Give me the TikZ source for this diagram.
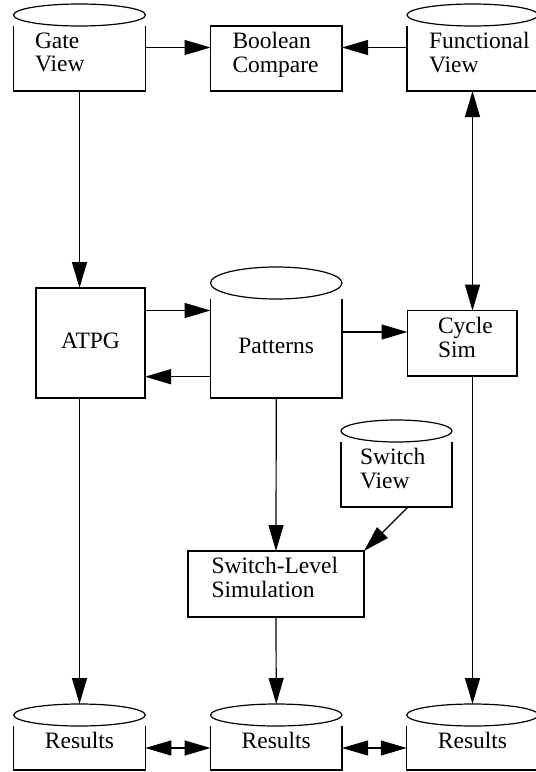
\documentclass[tikz,border=0pt]{standalone}
\usepackage{fontspec}
\setmainfont{Liberation Serif}
\usetikzlibrary{positioning,arrows.meta,shapes.geometric}
\hyphenpenalty=10000

\tikzset{
  box/.style={draw, rectangle, inner xsep=22pt, inner ysep=0pt, outer sep=0pt,
    align=left, text depth=36pt},
  db/.style={box, draw=none},
  lid/.style={draw, ellipse, inner sep=0pt, outer sep=0pt},
  flow/.style={-{Triangle[length=26pt,width=15pt]}},
  both/.style={{Triangle[length=26pt,width=15pt]}-{Triangle[length=26pt,width=15pt]}},
}

\begin{document}
\begin{tikzpicture}[x=1pt, y=-1pt, line width=1.2pt,
  font=\fontsize{23.5}{23.5}\selectfont]
	\path[use as bounding box, clip] (0,0) rectangle (536,772);

	% top row
	\node [db, text width=89pt, inner xsep=21.5pt, minimum height=65pt] (gate) at (79.5,58.5) {Gate\\View};
	\node [lid, minimum width=132pt, minimum height=22pt, above=0pt of gate] (gatelid) {};
	\node [box, text width=87.5pt, minimum height=65pt] (cmp) at (276.25,58.5) {Boolean\\Compare};
	\node [db, text width=87pt, minimum height=65pt] (func) at (472.5,58.5) {Functional\\View};
	\node [lid, minimum width=131pt, minimum height=22pt, above=0pt of func] (funclid) {};

	% middle row
	\node [box, minimum width=109pt, minimum height=110pt, align=center, text depth=4pt] (atpg) at (90.5,343) {ATPG};
	\node [db, minimum width=131.5pt, minimum height=99pt, align=center, text depth=6pt] (pat) at (276.25,348.5) {Patterns};
	\node [lid, minimum width=131.5pt, minimum height=32pt, above=0pt of pat] (patlid) {};
	\node [box, text width=48.5pt, inner xsep=30.5pt, minimum height=65.3pt] (cyc) at (462.25,343.35) {Cycle\\Sim};

	\node [db, text width=73pt, inner xsep=19pt, minimum height=65pt] (swv) at (396.5,474.5) {Switch\\View};
	\node [lid, minimum width=111pt, minimum height=22pt, above=0pt of swv] (swvlid) {};
	\node [box, text width=129pt, inner xsep=23.5pt, minimum height=66pt, text depth=37pt] (sls) at (276,584) {Switch-Level\\Simulation};

	% results
	\foreach \i/\x in {1/79.5, 2/276.25, 3/472.5} {
		\node [db, minimum width=131.5pt, minimum height=44pt, align=center, text depth=15pt] (res\i) at (\x,748) {Results};
		\node [lid, minimum width=131.5pt, minimum height=22pt, above=0pt of res\i] (lid\i) {};
	}

	% open-topped drums
	\foreach \n in {gate,func,pat,swv,res1,res2,res3}
		\draw (\n.north west) -- (\n.south west) -- (\n.south east) -- (\n.north east);

	\draw [flow] (gate.east |- 0,47.5) -- (cmp.west |- 0,47.5);
	\draw [flow] (func.west |- 0,47.5) -- (cmp.east |- 0,47.5);
	\draw [flow] (gate.south) -- (gate.south |- atpg.north);
	\draw [both] (func.south) -- (func.south |- cyc.north);
	\draw [flow] (atpg.east |- 0,310.5) -- (pat.west |- 0,310.5);
	\draw [flow] (pat.west |- 0,376.7) -- (atpg.east |- 0,376.7);
	\draw [flow] (pat.east |- 0,332) -- (cyc.west |- 0,332);
	\draw [flow] (pat.south) -- (sls.north);
	\draw [flow] ([xshift=11.5pt]swv.south) -- (sls.north east);
	\draw [flow] (lid1.north |- atpg.south) -- (lid1.north);
	\draw [flow] (sls.south) -- (lid2.north);
	\draw [flow] (lid3.north |- cyc.south) -- (lid3.north);
	\draw [both] (res1) -- (res2);
	\draw [both] (res2) -- (res3);
\end{tikzpicture}
\end{document}
